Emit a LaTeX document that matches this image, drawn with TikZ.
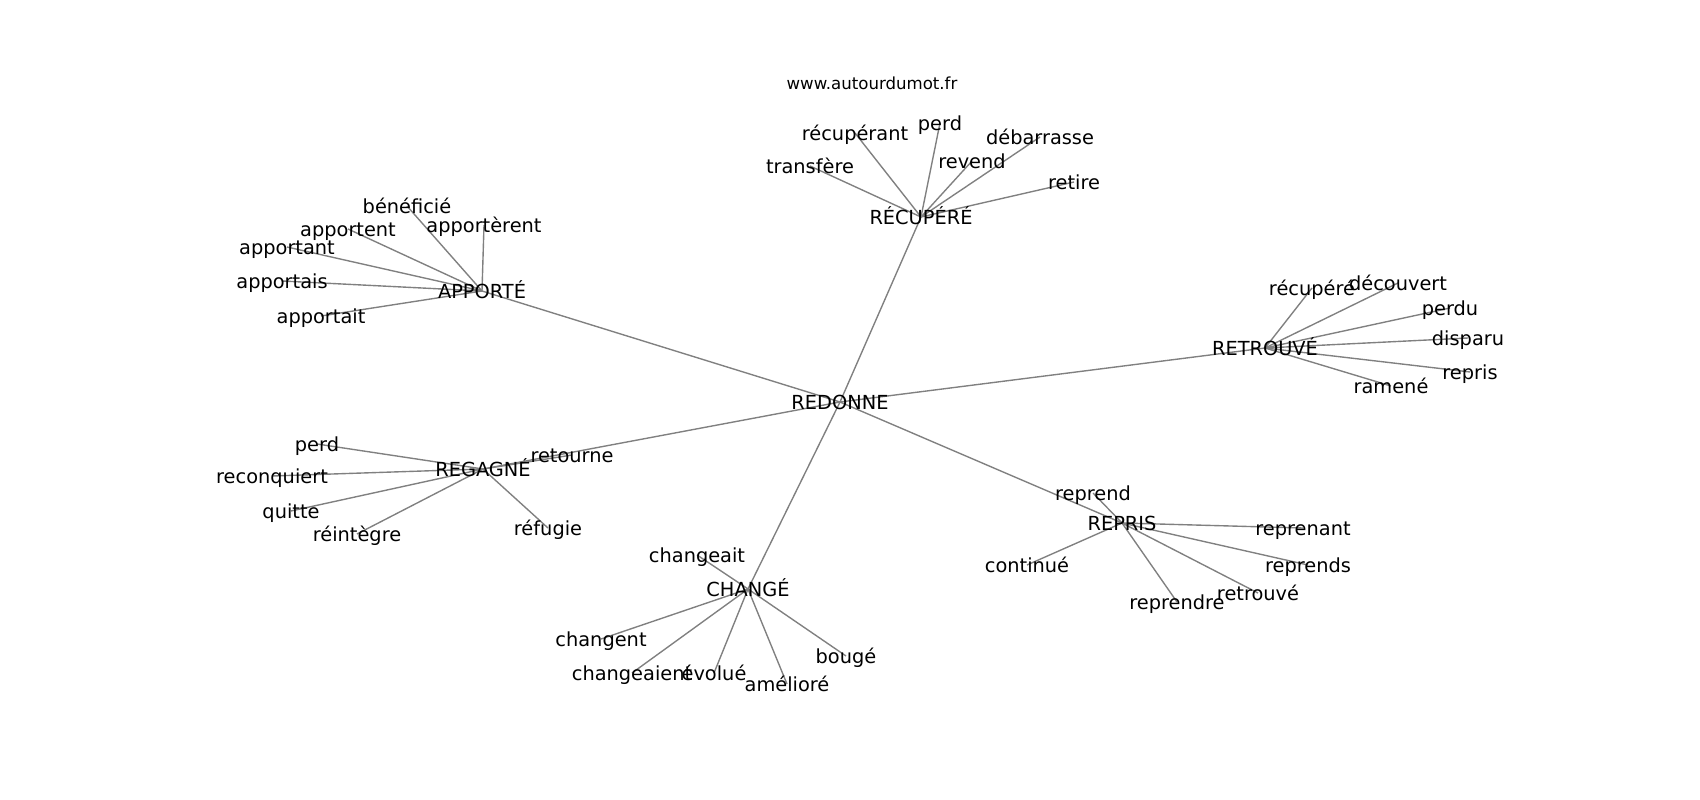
\documentclass[tikz,border=0pt]{standalone}
\usepackage{fontspec}
\setmainfont{DejaVu Sans}
\usetikzlibrary{backgrounds}

\begin{document}
\begin{tikzpicture}
  [x=0.0254cm, y=-0.0254cm,
   word/.style={font=\fontsize{14}{17}\selectfont, inner sep=0pt,
                text height=1.2em, text depth=0.06em},
   site/.style={font=\fontsize{12}{14}\selectfont, inner sep=0pt},
   link/.style={draw=gray, line width=1pt},
  ]
  \useasboundingbox (0,0) rectangle (1700,800);

  \node[site] (web) at (872,83) {www.autourdumot.fr};

  \node[word] (n0) at (840,402) {REDONNE};

  \node[word] (a0) at (482,291) {APPORTÉ};
  \node[word] (a1) at (407,206) {bénéficié};
  \node[word] (a2) at (484,225) {apportèrent};
  \node[word] (a3) at (348,229) {apportent};
  \node[word] (a4) at (287,247) {apportant};
  \node[word] (a5) at (282,281) {apportais};
  \node[word] (a6) at (321,316) {apportait};

  \node[word] (b0) at (921,217) {RÉCUPÉRÉ};
  \node[word] (b1) at (855,133) {récupérant};
  \node[word] (b2) at (940,123) {perd};
  \node[word] (b3) at (1040,137) {débarrasse};
  \node[word] (b4) at (972,161) {revend};
  \node[word] (b5) at (810,166) {transfère};
  \node[word] (b6) at (1074,182) {retire};

  \node[word] (c0) at (1265,348) {RETROUVÉ};
  \node[word] (c1) at (1312,288) {récupéré};
  \node[word] (c2) at (1398,283) {découvert};
  \node[word] (c3) at (1450,308) {perdu};
  \node[word] (c4) at (1468,338) {disparu};
  \node[word] (c5) at (1470,372) {repris};
  \node[word] (c6) at (1391,386) {ramené};

  \node[word] (d0) at (483,469) {REGAGNÉ};
  \node[word] (d1) at (317,444) {perd};
  \node[word] (d2) at (272,476) {reconquiert};
  \node[word] (d3) at (291,511) {quitte};
  \node[word] (d4) at (357,534) {réintègre};
  \node[word] (d5) at (548,528) {réfugie};
  \node[word] (d6) at (572,455) {retourne};

  \node[word] (e0) at (1122,523) {REPRIS};
  \node[word] (e1) at (1093,493) {reprend};
  \node[word] (e2) at (1303,528) {reprenant};
  \node[word] (e3) at (1027,565) {continué};
  \node[word] (e4) at (1308,565) {reprends};
  \node[word] (e5) at (1258,593) {retrouvé};
  \node[word] (e6) at (1177,602) {reprendre};

  \node[word] (f0) at (748,589) {CHANGÉ};
  \node[word] (f1) at (697,555) {changeait};
  \node[word] (f2) at (601,639) {changent};
  \node[word] (f3) at (632,673) {changeaient};
  \node[word] (f4) at (714,673) {évolué};
  \node[word] (f5) at (787,684) {amélioré};
  \node[word] (f6) at (846,656) {bougé};

  \begin{scope}[on background layer]
    \foreach \h in {a,b,c,d,e,f}
      \path (n0.center) edge[link] (\h0.center);
    \foreach \h in {a,b,c,d,e,f}
      \foreach \i in {1,...,6}
        \path (\h0.center) edge[link] (\h\i.center);
  \end{scope}
\end{tikzpicture}
\end{document}
